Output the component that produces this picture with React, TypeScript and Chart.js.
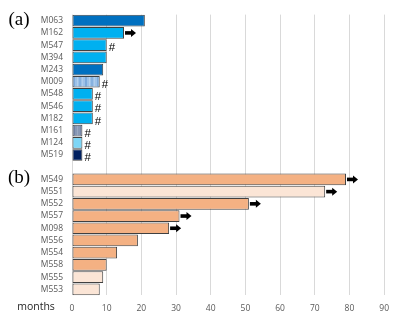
import React, { useEffect, useRef } from "react";
import { Chart, registerables } from "chart.js";

Chart.register(...registerables);

const labelsA = ["M063", "M162", "M547", "M394", "M243", "M009", "M548", "M546", "M182", "M161", "M124", "M519"];
const valuesA = [21, 15, 10, 10, 9, 8, 6, 6, 6, 3, 3, 3];
const colorsA = ["#0070C0", "#00B0F0", "#00B0F0", "#00B0F0", "#0070C0", "stripeBlue", "#00B0F0", "#00B0F0", "#00B0F0", "stripeGray", "#7DD6F6", "#002060"];
const marksA = ["", "arrow", "#", "", "", "#", "#", "#", "#", "#", "#", "#"];

const labelsB = ["M549", "M551", "M552", "M557", "M098", "M556", "M554", "M558", "M555", "M553"];
const valuesB = [79, 73, 51, 31, 28, 19, 13, 10, 9, 8];
const colorsB = ["#F4B183", "#FBE5D6", "#F4B183", "#F4B183", "#F4B183", "#F4B183", "#F4B183", "#F4B183", "#FBE5D6", "#FBE5D6"];
const marksB = ["arrow", "arrow", "arrow", "arrow", "arrow", "", "", "", "", ""];

const panelTitles = ["(a)", "(b)"];
const axisTitle = "months";
const xTicks = [0, 10, 20, 30, 40, 50, 60, 70, 80, 90];

function makePattern(base: string, stripes: [number, number, string][]) {
  const c = document.createElement("canvas");
  c.width = 12;
  c.height = 4;
  const g = c.getContext("2d")!;
  g.fillStyle = base;
  g.fillRect(0, 0, 12, 4);
  stripes.forEach(([x, w, col]) => {
    g.fillStyle = col;
    g.fillRect(x, 0, w, 4);
  });
  return g.createPattern(c, "repeat")!;
}

export default function App() {
  const ref = useRef<HTMLCanvasElement>(null);
  useEffect(() => {
    const canvas = ref.current!;
    const ctx = canvas.getContext("2d")!;
    const stripeBlue = makePattern("#9EC2E8", [[1, 2, "#7DAADB"], [5, 1, "#B4D1EE"], [7, 2, "#86B1DF"], [10, 1, "#AFCDEC"]]);
    const stripeGray = makePattern("#8797B4", [[1, 2, "#6F80A2"], [5, 1, "#9AA8C1"], [8, 2, "#7787A8"]]);
    const resolve = (c: string) => (c === "stripeBlue" ? stripeBlue : c === "stripeGray" ? stripeGray : c);

    const labels = [...labelsA, "", ...labelsB];
    const values: (number | null)[] = [...valuesA, null, ...valuesB];
    const colors = [...colorsA.map(resolve), "#fff", ...colorsB];
    const marks = [...marksA, "", ...marksB];
    const groupStarts = [0, labelsA.length + 1];

    const overlay = {
      id: "overlay",
      afterDatasetsDraw(chart: any) {
        const c = chart.ctx;
        const meta = chart.getDatasetMeta(0);
        c.save();
        meta.data.forEach((bar: any, i: number) => {
          const m = marks[i];
          if (!m || values[i] == null) return;
          const x = bar.x;
          const y = bar.y;
          if (m === "arrow") {
            c.fillStyle = "#000";
            const x0 = x + 1;
            c.fillRect(x0, y - 1.8, 7, 3.6);
            c.beginPath();
            c.moveTo(x0 + 6, y - 4);
            c.lineTo(x0 + 11, y);
            c.lineTo(x0 + 6, y + 4);
            c.closePath();
            c.fill();
          } else {
            c.fillStyle = "#000";
            c.font = "11.5px 'Liberation Sans'";
            c.textAlign = "left";
            c.textBaseline = "middle";
            c.fillText(m, x + 2, y + 3);
          }
        });
        c.fillStyle = "#000";
        c.font = "19px 'Liberation Serif'";
        c.textAlign = "center";
        c.textBaseline = "middle";
        groupStarts.forEach((gi, k) => {
          const b = meta.data[gi];
          c.fillText(panelTitles[k], 19, b.y - 1);
        });
        c.fillStyle = "#262626";
        c.font = "10.5px 'Open Sans'";
        c.fillText(axisTitle, 36, chart.chartArea.bottom + 12);
        c.restore();
      },
    };

    const chart = new Chart(ctx, {
      type: "bar",
      data: {
        labels,
        datasets: [
          {
            data: values,
            backgroundColor: colors,
            borderColor: "#404040",
            borderWidth: 1,
            borderSkipped: false,
            categoryPercentage: 1,
            barPercentage: 0.96,
          },
        ],
      },
      options: {
        indexAxis: "y",
        responsive: false,
        animation: false,
        events: [],
        layout: { padding: { left: 0, right: 5, top: 14.6, bottom: 0 } },
        plugins: { legend: { display: false }, tooltip: { enabled: false } },
        scales: {
          x: {
            min: 0,
            max: 90,
            afterFit: (s: any) => {
              s.height = 26.6;
            },
            afterBuildTicks: (s: any) => {
              s.ticks = xTicks.map((v) => ({ value: v }));
            },
            grid: { color: "#D9D9D9", lineWidth: 1, drawTicks: false },
            border: { display: false },
            ticks: {
              padding: 8,
              color: "#595959",
              font: { family: "'Open Sans'", size: 8.5 },
            },
          },
          y: {
            afterFit: (s: any) => {
              s.width = 72;
            },
            grid: { display: false, drawTicks: false },
            border: { display: false },
            ticks: {
              autoSkip: false,
              padding: 9,
              color: "#595959",
              font: { family: "'Open Sans'", size: 8.5 },
            },
          },
        },
      },
      plugins: [overlay],
    });
    return () => chart.destroy();
  }, []);

  return (
    <div style={{ position: "absolute", left: 0, top: 0, width: 397, height: 322, background: "#fff" }}>
      <canvas ref={ref} width={397} height={322} />
    </div>
  );
}
